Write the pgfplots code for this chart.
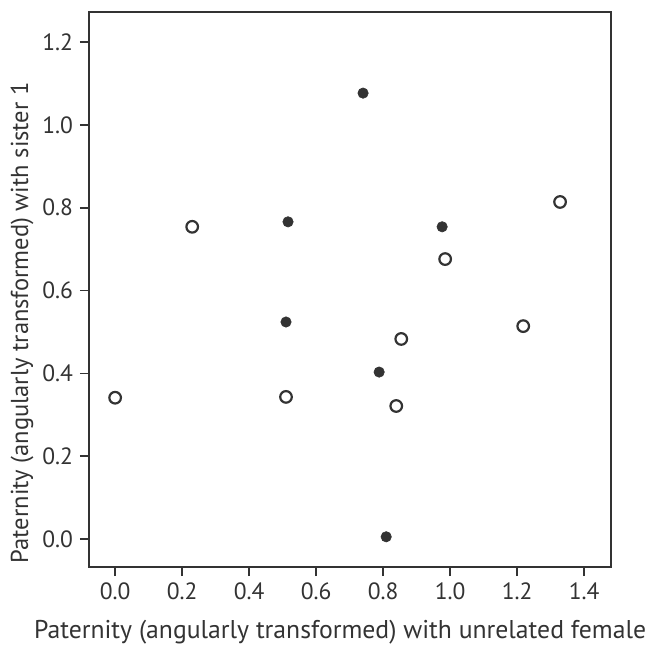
\documentclass[border=0pt]{standalone}
\usepackage{pgfplots}
\pgfplotsset{compat=1.18}
\usepackage{fontspec}
\setmainfont{PT Sans}
\definecolor{ink}{HTML}{333333}
\begin{document}
\begin{tikzpicture}
\begin{axis}[
  scale only axis,
  width=261bp, height=277.5bp,
  xmin=-0.078, xmax=1.48,
  ymin=-0.068, ymax=1.273,
  xtick={0,0.2,...,1.4}, ytick={0,0.2,...,1.2},
  tick align=outside, tick pos=left,
  major tick length=4.5bp,
  axis line style={ink, line width=1bp},
  every tick/.style={ink, line width=0.8bp},
  tick label style={font=\fontsize{11.8}{14}\selectfont, text=ink},
  label style={font=\fontsize{12.9}{15}\selectfont, text=ink},
  /pgf/number format/.cd, fixed, fixed zerofill, precision=1, assume math mode=true,
  /pgfplots/.cd,
  xlabel={Paternity (angularly transformed) with unrelated female},
  ylabel={Paternity (angularly transformed) with sister 1},
  xlabel style={at={(ticklabel cs:0.481)}, yshift=-3bp},
  ylabel style={at={(ticklabel cs:0.44)}, yshift=-2.5bp, font=\fontsize{12.3}{15}\selectfont},
]
% filled markers
\addplot[only marks, mark=*, mark size=2.6bp, mark options={fill=ink, draw=ink, line width=0.3bp}]
  coordinates {(0.740,1.077) (0.516,0.766) (0.976,0.754) (0.510,0.524) (0.788,0.403) (0.809,0.005)};
% open markers
\addplot[only marks, mark=o, mark size=2.9bp, mark options={draw=ink, fill=white, line width=1.1bp}]
  coordinates {(0.230,0.754) (1.328,0.814) (0.985,0.676) (1.218,0.514) (0.854,0.483) (0.839,0.321) (0.0,0.341) (0.510,0.343)};
\end{axis}
\pgfresetboundingbox
\path (current axis.south west) ++(-44.5bp,-39.5bp) rectangle (current axis.north east);
\path (current axis.north east) ++(21bp,6bp);
\end{tikzpicture}
\end{document}
